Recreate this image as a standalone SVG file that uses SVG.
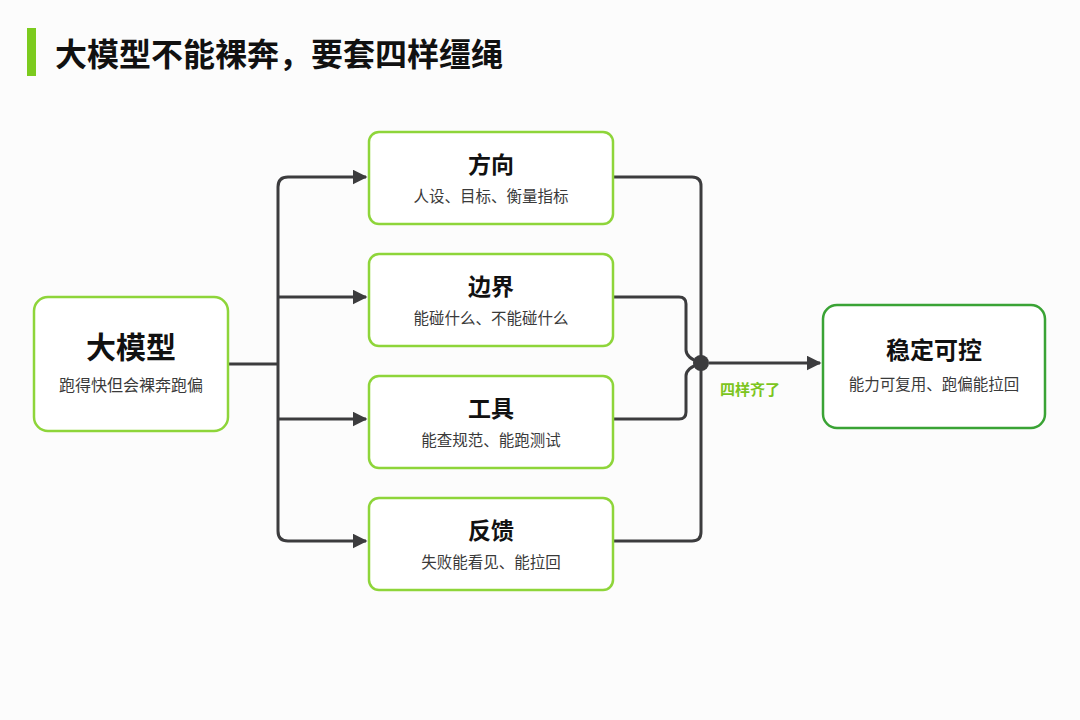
<svg xmlns="http://www.w3.org/2000/svg" width="1080" height="720" viewBox="0 0 1080 720">
<style>
text{font-family:"Noto Sans CJK SC","Noto Sans",sans-serif;text-anchor:middle}
.box{fill:#fff;stroke:#8ed53a;stroke-width:2.5}
.t{font-size:23px;font-weight:700;fill:#111}
.s{font-size:15.5px;fill:#3a3a3a}
.ln{fill:none;stroke:#3c3c3e;stroke-width:3}
</style>
<defs><marker id="a" viewBox="0 0 10 10" refX="9" refY="5" markerWidth="5" markerHeight="5" markerUnits="strokeWidth" orient="auto"><path d="M0,0L10,5L0,10z" fill="#3c3c3e"/></marker></defs>
<rect width="1080" height="720" fill="#fcfcfc"/>
<rect x="27" y="28" width="9" height="48" fill="#7ccb1e"/>
<text x="55" y="66" style="text-anchor:start;font-size:32px;font-weight:700;fill:#111">大模型不能裸奔，要套四样缰绳</text>
<g id="connectors">
<path class="ln" d="M228,364H278"/>
<path class="ln" d="M278,187V531"/>
<path class="ln" d="M278,187Q278,177 288,177H366" marker-end="url(#a)"/>
<path class="ln" d="M278,531Q278,541 288,541H366" marker-end="url(#a)"/>
<path class="ln" d="M278,297H366" marker-end="url(#a)"/>
<path class="ln" d="M278,419H366" marker-end="url(#a)"/>
<path class="ln" d="M613,177H692Q701,177 701,186V532Q701,541 692,541H613"/>
<path class="ln" d="M613,297H679Q686,297 686,304V350Q686,358 701,363"/>
<path class="ln" d="M613,419H679Q686,419 686,412V376Q686,368 701,363"/>
<circle cx="701" cy="363" r="8" fill="#3c3c3e"/>
<path class="ln" d="M709,363H820" marker-end="url(#a)"/>
<text x="750" y="395" style="font-size:15px;font-weight:700;fill:#7cc520">四样齐了</text>
</g>
<g id="n0"><rect class="box" x="34" y="297" width="194" height="134" rx="14"/><text x="131" y="358" style="font-size:30px;font-weight:700;fill:#111">大模型</text><text class="s" x="131" y="391" style="font-size:16px">跑得快但会裸奔跑偏</text></g>
<g id="n1"><rect class="box" x="369" y="132" width="244" height="92" rx="10"/><text class="t" x="491" y="173">方向</text><text class="s" x="491" y="202">人设、目标、衡量指标</text></g>
<g id="n2"><rect class="box" x="369" y="254" width="244" height="92" rx="10"/><text class="t" x="491" y="295">边界</text><text class="s" x="491" y="324">能碰什么、不能碰什么</text></g>
<g id="n3"><rect class="box" x="369" y="376" width="244" height="92" rx="10"/><text class="t" x="491" y="417">工具</text><text class="s" x="491" y="446">能查规范、能跑测试</text></g>
<g id="n4"><rect class="box" x="369" y="498" width="244" height="92" rx="10"/><text class="t" x="491" y="539">反馈</text><text class="s" x="491" y="568">失败能看见、能拉回</text></g>
<g id="n5"><rect class="box" x="823" y="305" width="222" height="123" rx="14" style="stroke:#3aa335"/><text x="934" y="359" style="font-size:24px;font-weight:700;fill:#111">稳定可控</text><text class="s" x="934" y="390">能力可复用、跑偏能拉回</text></g>
</svg>
